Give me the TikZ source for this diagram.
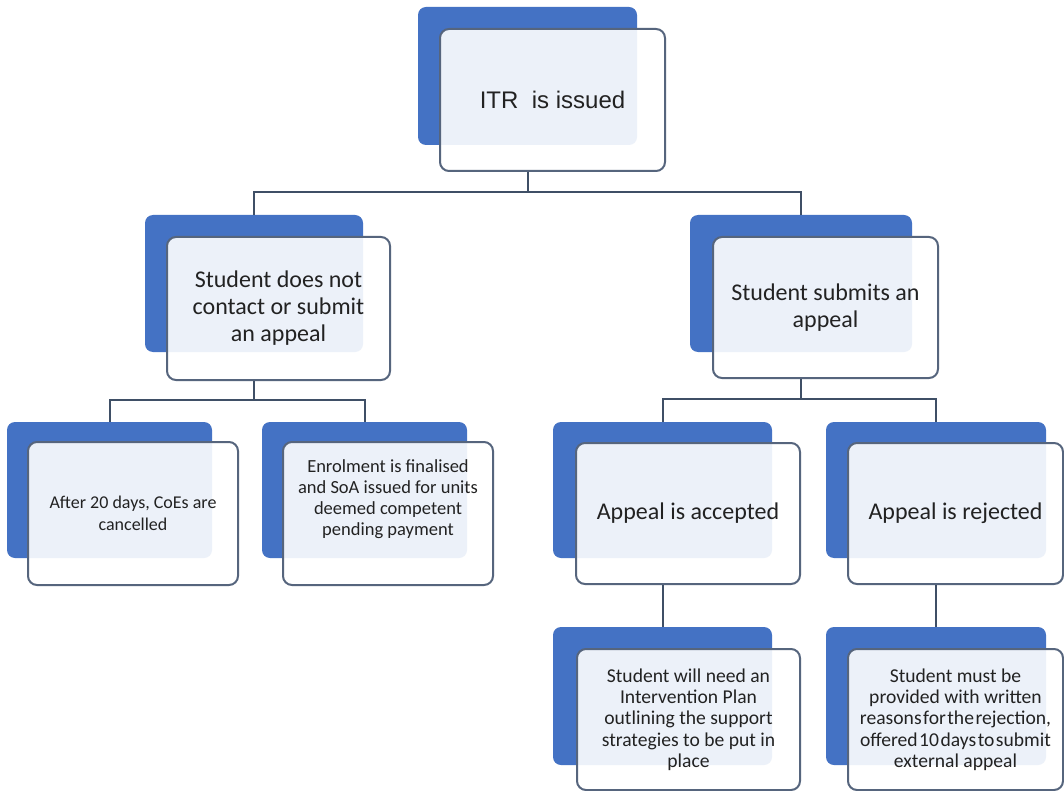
\documentclass[tikz,border=0pt]{standalone}
\usepackage{fontspec}
\setmainfont{Carlito}
\newfontfamily\arialf{Liberation Sans}
\definecolor{blueB}{HTML}{4472C4}
\definecolor{edgeC}{HTML}{56657D}
\definecolor{lineC}{HTML}{3F4F66}
\definecolor{txtC}{HTML}{222222}
\begin{document}
\begin{tikzpicture}[x=1pt,y=-1pt,
  back/.style={fill=blueB, rounded corners=8pt, draw=none, inner sep=0pt},
  front/.style={fill=white, fill opacity=0.9, text opacity=1, draw=edgeC, line width=2pt,
    rounded corners=9pt, inner sep=0pt, align=center, text=txtC},
  conn/.style={draw=lineC, line width=2pt},
  midf/.style={font=\fontsize{24}{27}\selectfont},
  leaff/.style={font=\fontsize{18}{22}\selectfont},
  lowf/.style={font=\fontsize{19.6}{21.3}\selectfont}]
\useasboundingbox[fill=white] (0,0) rectangle (1064,791);

% top
\node[back, minimum width=219pt, minimum height=138pt] (topB) at (527.5,76) {};
\node[front, minimum width=225pt, minimum height=142pt, font=\arialf\fontsize{24}{28}\selectfont] (top) at (552.5,100) {ITR\hspace{0.28em} is issued};

% middle
\node[back, minimum width=218pt, minimum height=137pt] (mlB) at (254,283.5) {};
\node[front, midf, minimum width=223pt, minimum height=143pt] (ml) at (278.5,308.5) {Student does not\\contact or submit\\an appeal};
\node[back, minimum width=222pt, minimum height=137pt] (mrB) at (801,283.5) {};
\node[front, midf, minimum width=225pt, minimum height=141pt] (mr) at (825.5,307.5) {Student submits an\\appeal};

% third row
\node[back, minimum width=205pt, minimum height=136pt] (l1B) at (109.5,490) {};
\node[front, leaff, minimum width=210pt, minimum height=143pt] (l1) at (133,513.5) {After 20 days, CoEs are\\cancelled};
\node[back, minimum width=205pt, minimum height=136pt] (l2B) at (364.5,490) {};
\node[front, font=\fontsize{18.5}{21}\selectfont, minimum width=210pt, minimum height=143pt] (l2) at (388,513.5) {Enrolment is finalised\\and SoA issued for units\\deemed competent\\pending payment\\[10pt]\mbox{}};
\node[back, minimum width=219pt, minimum height=136pt] (acB) at (662.5,490) {};
\node[front, midf, minimum width=224pt, minimum height=141pt] (ac) at (688,513.5) {Appeal is accepted};
\node[back, minimum width=220pt, minimum height=136pt] (rjB) at (936,490) {};
\node[front, midf, minimum width=215pt, minimum height=141pt] (rj) at (955.5,513.5) {Appeal is rejected};

% bottom row
\node[back, minimum width=219pt, minimum height=138pt] (bacB) at (662.5,696) {};
\node[front, lowf, minimum width=223pt, minimum height=141pt] (bac) at (688.5,719.5) {Student will need an\\Intervention Plan\\outlining the support\\strategies to be put in\\place};
\node[back, minimum width=220pt, minimum height=138pt] (brjB) at (936,696) {};
\node[front, lowf, minimum width=215pt, minimum height=141pt] (brj) at (955.5,719.5) {Student must be\\provided with written\\\mbox{\spaceskip=1.5pt reasons for the rejection,}\\\mbox{\spaceskip=1.5pt offered 10 days to submit}\\external appeal};

% connectors
\draw[conn] (top.south -| topB.center) -- ++(0,20) -| (mlB.north);
\draw[conn] (top.south -| topB.center) -- ++(0,20) -| (mrB.north);
\draw[conn] (ml.south -| mlB.center) -- ++(0,19) -| (l1B.north);
\draw[conn] (ml.south -| mlB.center) -- ++(0,19) -| (l2B.north);
\draw[conn] (mr.south -| mrB.center) -- ++(0,20) -| (acB.north);
\draw[conn] (mr.south -| mrB.center) -- ++(0,20) -| (rjB.north);
\draw[conn] (ac.south -| acB.center) -- (bacB.north);
\draw[conn] (rj.south -| rjB.center) -- (brjB.north);
\end{tikzpicture}
\end{document}
